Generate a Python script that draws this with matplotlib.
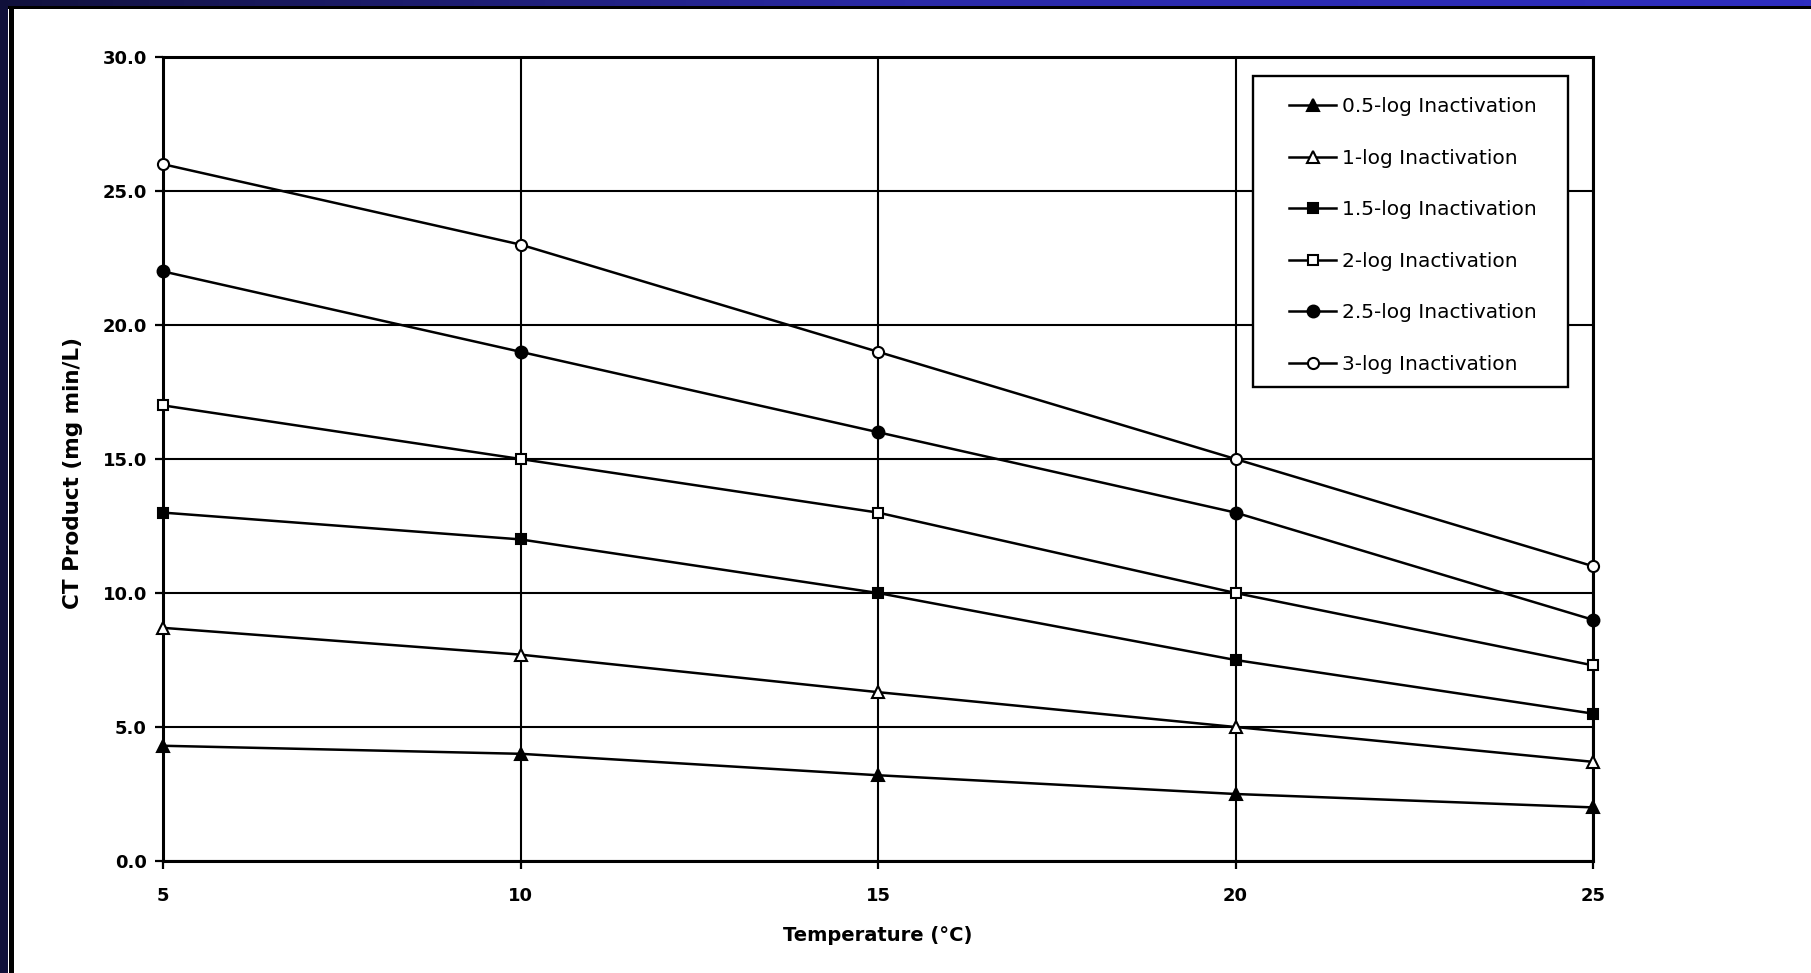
import matplotlib
matplotlib.use("Agg")
import matplotlib.pyplot as plt
import numpy as np
from matplotlib.patches import Rectangle
from matplotlib.colors import LinearSegmentedColormap

temps = [5, 10, 15, 20, 25]
labels = ["0.5-log Inactivation", "1-log Inactivation", "1.5-log Inactivation",
          "2-log Inactivation", "2.5-log Inactivation", "3-log Inactivation"]
ct_05 = [4.3, 4.0, 3.2, 2.5, 2.0]
ct_10 = [8.7, 7.7, 6.3, 5.0, 3.7]
ct_15 = [13.0, 12.0, 10.0, 7.5, 5.5]
ct_20 = [17.0, 15.0, 13.0, 10.0, 7.3]
ct_25 = [22.0, 19.0, 16.0, 13.0, 9.0]
ct_30 = [26.0, 23.0, 19.0, 15.0, 11.0]
series = [ct_05, ct_10, ct_15, ct_20, ct_25, ct_30]
yticks = [0, 5, 10, 15, 20, 25, 30]
xticks = [5, 10, 15, 20, 25]

plt.rcParams['font.family'] = ['DejaVu Sans']

W, H = 1811, 973
fig = plt.figure(figsize=(W / 100, H / 100), dpi=100)
fig.patch.set_facecolor('white')

# Frame decoration (navy bars + black lines)
grad = np.linspace(0, 1, 256).reshape(1, -1)
cm = LinearSegmentedColormap.from_list('b', ['#11113c', '#2a2aa8', '#2e2ec0'])
bar_ax = fig.add_axes([0, 1 - 6 / H, 1, 6 / H])
bar_ax.imshow(grad, aspect='auto', cmap=cm)
bar_ax.axis('off')
fig.patches.append(Rectangle((0, 1 - 9 / H), 1, 3.5 / H, transform=fig.transFigure,
                             facecolor='black', edgecolor='none', zorder=5))
fig.patches.append(Rectangle((0, 0), 8 / W, 1, transform=fig.transFigure,
                             facecolor='#10103a', edgecolor='none', zorder=5))
fig.patches.append(Rectangle((9 / W, 0), 5 / W, 1 - 6 / H, transform=fig.transFigure,
                             facecolor='black', edgecolor='none', zorder=5))

ax = fig.add_axes([163 / W, 1 - 861 / H, (1593 - 163) / W, (861 - 57) / H])

styles = [
    dict(marker='^', mfc='black', ms=8.5),
    dict(marker='^', mfc='white', ms=8.5),
    dict(marker='s', mfc='black', ms=7.5),
    dict(marker='s', mfc='white', ms=7.5),
    dict(marker='o', mfc='black', ms=8.5),
    dict(marker='o', mfc='white', ms=8),
]
handles = []
for vals, lab, st in zip(series, labels, styles):
    h, = ax.plot(temps, vals, color='black', lw=1.8, marker=st['marker'],
                 markerfacecolor=st['mfc'], markeredgecolor='black',
                 markeredgewidth=1.5, markersize=st['ms'], label=lab,
                 zorder=4, clip_on=False)
    handles.append(h)

ax.set_xlim(5, 25)
ax.set_ylim(0, 30)
ax.set_xticks(xticks)
ax.set_yticks(yticks)
ax.set_xticklabels([str(t) for t in xticks])
ax.set_yticklabels([f"{v:.1f}" for v in yticks])
ax.grid(True, color='black', lw=1.5)
ax.set_axisbelow(True)
for s in ax.spines.values():
    s.set_linewidth(2.2)
ax.tick_params(axis='both', direction='out', length=5.8, width=1.6, labelsize=13, pad=5.8)
for t in ax.get_xticklabels() + ax.get_yticklabels():
    t.set_fontweight('bold')
ax.tick_params(axis='x', pad=13)

ax.set_xlabel('Temperature (°C)', fontsize=14, fontweight='bold', labelpad=15)
ax.set_ylabel('CT Product (mg min/L)', fontsize=15.5, fontweight='bold')
ax.yaxis.set_label_coords((83 - 163) / 1430, (861 - 473) / 804)

# legend frame
lx0, ly0, lx1, ly1 = 1253, 76, 1568, 387
fig.patches.append(Rectangle((lx0 / W, 1 - ly1 / H), (lx1 - lx0) / W, (ly1 - ly0) / H,
                             transform=fig.transFigure, facecolor='white',
                             edgecolor='black', lw=1.7, zorder=6))
leg = fig.legend(handles=handles, loc='upper left',
                 bbox_to_anchor=(1289 / W, 1 - 97 / H), frameon=False,
                 fontsize=14.5, labelspacing=1.62, handlelength=2.35,
                 handletextpad=0.3, borderpad=0, borderaxespad=0)
leg.set_zorder(7)

fig.savefig('out.png', dpi=100)
